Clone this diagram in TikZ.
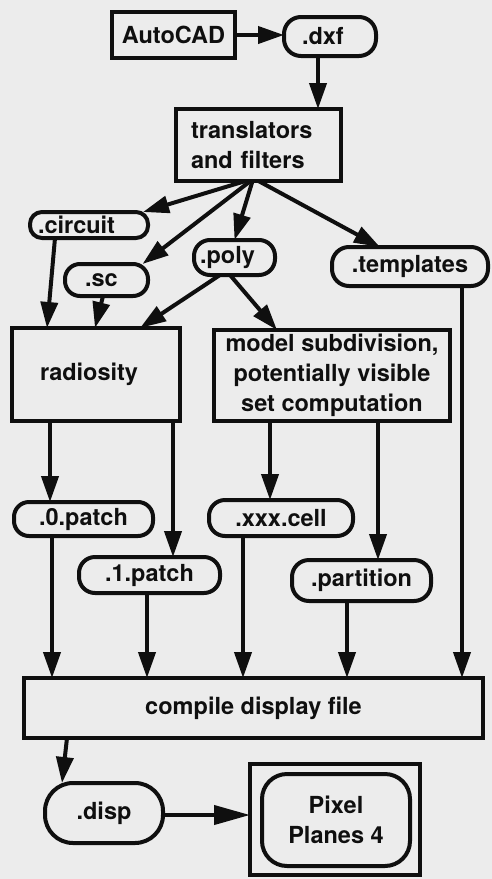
\documentclass[tikz,border=0pt]{standalone}
\usepackage{fontspec}
\setmainfont{TeX Gyre Heros}
\usetikzlibrary{arrows.meta}
\definecolor{bg}{RGB}{236,236,236}
\definecolor{ink}{RGB}{15,15,15}
\begin{document}
\begin{tikzpicture}[x=1pt,y=-1pt,
  every node/.style={font=\fontsize{23.5}{30}\selectfont\bfseries, text=ink, inner sep=0pt, outer sep=0pt},
  box/.style={draw=ink, line width=4pt},
  rnd/.style={box, rounded corners=#1},
  rnd/.default=15pt,
  arr/.style={draw=ink, line width=4pt, -{Triangle[length=26pt,width=17pt]}},
  longarr/.style={draw=ink, line width=4pt, -{Triangle[length=36pt,width=19pt]}}
]
\fill[bg] (0,0) rectangle (492,879);
\useasboundingbox (0,0) rectangle (492,879);

% nodes
\node[box, minimum width=123pt, minimum height=46pt] (auto) at (173.5,35) {AutoCAD};
\node[rnd=17pt, minimum height=39pt, text width=56pt, align=left, inner xsep=18pt] (dxf) at (330,36.5) {.dxf};
\node[box, minimum height=72pt, text width=135pt, align=left, inner xsep=15pt] (trans) at (258.5,145) {translators\\and filters};

\node[rnd=12pt, minimum height=26pt, text width=102pt, align=left, inner xsep=8pt] (circ) at (89,225) {.circuit};
\node[rnd=15pt, minimum height=32pt, text width=43pt, align=left, inner xsep=20pt] (sc) at (106.5,280) {.sc};
\node[rnd=16pt, minimum height=35pt, text width=69pt, align=left, inner xsep=6pt] (poly) at (234.5,257.5) {.poly};
\node[rnd=17pt, minimum width=156pt, minimum height=39pt] (templ) at (410,266.5) {.templates};

\node[box, minimum height=93pt, text width=112pt, align=left, inner xsep=28pt] (rad) at (96,374.5) {radiosity};
\node[box, minimum width=236pt, minimum height=91pt, align=center] (model) at (332,375.5) {model subdivision,\\potentially visible\\set computation};

\node[rnd=15pt, minimum width=139pt, minimum height=34pt] (p0) at (83.5,519) {.0.patch};
\node[rnd=16pt, minimum width=141pt, minimum height=36pt] (p1) at (149.5,575) {.1.patch};
\node[rnd=16pt, minimum width=144pt, minimum height=36pt] (xxx) at (281,518) {.xxx.cell};
\node[rnd=17pt, minimum width=139pt, minimum height=41pt] (part) at (361.5,580.5) {.partition};

\node[box, minimum width=459pt, minimum height=60pt] (comp) at (253.5,708) {compile display file};

\node[rnd=28pt, minimum width=118pt, minimum height=60pt] (disp) at (104,813) {.disp};
\node[box, minimum width=170pt, minimum height=111pt] (pp) at (335,819.5) {};
\node[rnd=25pt, minimum width=148pt, minimum height=92pt, align=center] (ppi) at (336,820) {Pixel\\Planes 4};

% connectors
\draw[arr] (auto.east) -- (auto.east -| dxf.west);
\draw[arr] ([xshift=-12pt]dxf.south) -- ([xshift=-12pt]dxf.south |- trans.north);

\draw[arr] ([xshift=-13pt]trans.south) -- ([xshift=54pt]circ.north);
\draw[arr] ([xshift=-8pt]trans.south) -- ([xshift=36pt]sc.north);
\draw[arr] ([xshift=-6pt]trans.south) -- ([xshift=0pt]poly.north);
\draw[arr] ([xshift=0pt]trans.south) -- ([xshift=-30pt]templ.north);

\draw[arr] ([xshift=-34pt]circ.south) -- ([xshift=-49pt]rad.north);
\draw[arr] ([xshift=-3.5pt]sc.south) -- ([xshift=-1pt]rad.north);
\draw[arr] ([xshift=-14.5pt]poly.south) -- ([xshift=44pt]rad.north);
\draw[arr] ([xshift=-4.5pt]poly.south) -- ([xshift=-55pt]model.north);

\draw[arr] ([xshift=-46pt]rad.south) -- ([xshift=-46pt]rad.south |- p0.north);
\draw[arr] ([xshift=77pt]rad.south) -- ([xshift=77pt]rad.south |- p1.north);
\draw[arr] ([xshift=-62pt]model.south) -- ([xshift=-62pt]model.south |- xxx.north);
\draw[arr] ([xshift=46pt]model.south) -- ([xshift=46pt]model.south |- part.north);

\draw[arr] ([xshift=52pt]templ.south) -- ([xshift=52pt]templ.south |- comp.north);
\draw[arr] ([xshift=-31.5pt]p0.south) -- ([xshift=-31.5pt]p0.south |- comp.north);
\draw[arr] ([xshift=-2.5pt]p1.south) -- ([xshift=-2.5pt]p1.south |- comp.north);
\draw[arr] ([xshift=-38pt]xxx.south) -- ([xshift=-38pt]xxx.south |- comp.north);
\draw[arr] ([xshift=-14.5pt]part.south) -- ([xshift=-14.5pt]part.south |- comp.north);

\draw[arr] ([xshift=-186.5pt]comp.south) -- ([xshift=-42pt]disp.north);
\draw[longarr] (disp.east |- 0,815) -- (pp.west |- 0,815);
\end{tikzpicture}
\end{document}
